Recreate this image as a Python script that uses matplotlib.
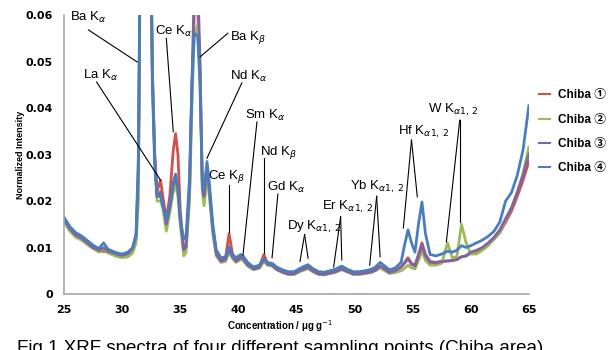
import matplotlib
matplotlib.use("Agg")
import matplotlib.pyplot as plt
from matplotlib import font_manager

# energy axis (labelled as in the source figure)
x = [25, 25.5, 26, 26.5, 27, 27.5, 28, 28.4, 28.8, 29.2, 29.6, 30, 30.5, 30.9, 31.2,
     31.4, 31.6, 32.4, 32.6, 32.8, 33.0, 33.3, 33.5, 33.8, 34.1, 34.4, 34.6, 34.8,
     35.0, 35.3, 35.5, 35.8, 36.0, 36.2, 36.5, 36.7, 36.9, 37.05, 37.3, 37.5, 37.8,
     38.1, 38.5, 38.9, 39.2, 39.5, 39.8, 40.2, 40.4, 40.8, 41.3, 41.8, 42.2, 42.5,
     42.9, 43.3, 43.8, 44.3, 44.8, 45.3, 45.7, 46.0, 46.4, 46.9, 47.4, 47.9, 48.3,
     48.9, 49.4, 49.9, 50.4, 50.9, 51.4, 51.8, 52.2, 52.6, 53.0, 53.5, 54.0, 54.3,
     54.6, 54.9, 55.2, 55.5, 55.8, 56.1, 56.5, 57.0, 57.5, 58.0, 58.4, 58.8, 59.2,
     59.6, 60.0, 60.5, 61.0, 61.5, 62.0, 62.5, 63.0, 63.5, 64.0, 64.5, 65.0]

chiba1 = [0.0158, 0.0138, 0.0125, 0.0118, 0.0108, 0.0098, 0.0092, 0.0092, 0.0090, 0.0088, 0.0084, 0.0082, 0.0086, 0.0096, 0.0120,
          0.0250, 0.0900, 0.0900, 0.0480, 0.0300, 0.0220, 0.0245, 0.0210, 0.0160, 0.0210, 0.0310, 0.0345, 0.0300,
          0.0180, 0.0093, 0.0100, 0.0220, 0.0430, 0.0600, 0.0620, 0.0480, 0.0240, 0.0215, 0.0270, 0.0225, 0.0140,
          0.0088, 0.0072, 0.0078, 0.0130, 0.0085, 0.0072, 0.0080, 0.0078, 0.0063, 0.0054, 0.0058, 0.0085, 0.0066,
          0.0062, 0.0054, 0.0048, 0.0044, 0.0044, 0.0050, 0.0055, 0.0058, 0.0050, 0.0044, 0.0043, 0.0046, 0.0048,
          0.0055, 0.0049, 0.0044, 0.0044, 0.0046, 0.0048, 0.0052, 0.0060, 0.0054, 0.0047, 0.0050, 0.0058, 0.0068,
          0.0078, 0.0066, 0.0062, 0.0085, 0.0110, 0.0085, 0.0070, 0.0068, 0.0070, 0.0071, 0.0072, 0.0074, 0.0080,
          0.0082, 0.0088, 0.0092, 0.0098, 0.0106, 0.0118, 0.0132, 0.0155, 0.0178, 0.0210, 0.0245, 0.0285]

chiba2 = [0.0155, 0.0135, 0.0122, 0.0116, 0.0106, 0.0098, 0.0090, 0.0098, 0.0088, 0.0084, 0.0080, 0.0078, 0.0080, 0.0088, 0.0110,
          0.0200, 0.0900, 0.0900, 0.0470, 0.0290, 0.0200, 0.0200, 0.0185, 0.0135, 0.0175, 0.0220, 0.0235, 0.0210,
          0.0150, 0.0082, 0.0090, 0.0200, 0.0400, 0.0550, 0.0580, 0.0460, 0.0220, 0.0190, 0.0250, 0.0210, 0.0130,
          0.0082, 0.0068, 0.0070, 0.0090, 0.0076, 0.0068, 0.0074, 0.0072, 0.0060, 0.0052, 0.0055, 0.0070, 0.0062,
          0.0060, 0.0052, 0.0046, 0.0042, 0.0042, 0.0048, 0.0052, 0.0055, 0.0048, 0.0042, 0.0041, 0.0044, 0.0046,
          0.0052, 0.0047, 0.0042, 0.0042, 0.0044, 0.0046, 0.0050, 0.0056, 0.0050, 0.0044, 0.0046, 0.0050, 0.0055,
          0.0062, 0.0056, 0.0054, 0.0072, 0.0092, 0.0072, 0.0062, 0.0062, 0.0066, 0.0110, 0.0078, 0.0080, 0.0150,
          0.0110, 0.0086, 0.0086, 0.0094, 0.0104, 0.0118, 0.0134, 0.0160, 0.0185, 0.0220, 0.0260, 0.0316]

chiba3 = [0.0160, 0.0140, 0.0127, 0.0120, 0.0110, 0.0100, 0.0094, 0.0100, 0.0092, 0.0089, 0.0085, 0.0083, 0.0087, 0.0098, 0.0125,
          0.0270, 0.0900, 0.0900, 0.0480, 0.0300, 0.0210, 0.0220, 0.0195, 0.0150, 0.0185, 0.0235, 0.0250, 0.0225,
          0.0160, 0.0095, 0.0102, 0.0230, 0.0450, 0.0650, 0.0680, 0.0500, 0.0230, 0.0210, 0.0270, 0.0225, 0.0140,
          0.0086, 0.0070, 0.0075, 0.0095, 0.0080, 0.0070, 0.0078, 0.0076, 0.0062, 0.0054, 0.0057, 0.0075, 0.0064,
          0.0062, 0.0053, 0.0047, 0.0043, 0.0043, 0.0050, 0.0054, 0.0057, 0.0049, 0.0043, 0.0042, 0.0045, 0.0047,
          0.0054, 0.0048, 0.0043, 0.0043, 0.0045, 0.0047, 0.0051, 0.0060, 0.0054, 0.0046, 0.0050, 0.0058, 0.0066,
          0.0075, 0.0064, 0.0060, 0.0082, 0.0105, 0.0082, 0.0068, 0.0067, 0.0070, 0.0071, 0.0072, 0.0074, 0.0080,
          0.0082, 0.0090, 0.0094, 0.0100, 0.0110, 0.0122, 0.0138, 0.0162, 0.0185, 0.0218, 0.0255, 0.0300]

chiba4 = [0.0165, 0.0145, 0.0132, 0.0125, 0.0115, 0.0105, 0.0098, 0.0110, 0.0096, 0.0092, 0.0088, 0.0086, 0.0090, 0.0100, 0.0130,
          0.0300, 0.0900, 0.0900, 0.0450, 0.0280, 0.0210, 0.0210, 0.0190, 0.0162, 0.0190, 0.0240, 0.0258, 0.0230,
          0.0160, 0.0118, 0.0125, 0.0250, 0.0450, 0.0560, 0.0555, 0.0450, 0.0240, 0.0225, 0.0285, 0.0240, 0.0150,
          0.0095, 0.0078, 0.0080, 0.0102, 0.0085, 0.0078, 0.0085, 0.0082, 0.0068, 0.0058, 0.0062, 0.0076, 0.0068,
          0.0066, 0.0058, 0.0052, 0.0048, 0.0048, 0.0055, 0.0060, 0.0063, 0.0055, 0.0048, 0.0047, 0.0050, 0.0053,
          0.0060, 0.0053, 0.0048, 0.0048, 0.0050, 0.0053, 0.0058, 0.0068, 0.0060, 0.0052, 0.0056, 0.0068, 0.0105,
          0.0138, 0.0110, 0.0090, 0.0150, 0.0198, 0.0130, 0.0085, 0.0082, 0.0086, 0.0092, 0.0090, 0.0094, 0.0104,
          0.0100, 0.0104, 0.0110, 0.0116, 0.0124, 0.0135, 0.0155, 0.0200, 0.0218, 0.0255, 0.0310, 0.0405]

series_names = ["Chiba \u2460", "Chiba \u2461", "Chiba \u2462", "Chiba \u2463"]
colors = ["#D0504D", "#9BBB59", "#8064A2", "#4A7EBB"]

# peak labels: text, text position, line start, line end points
labels = [
    (r"Ba K$_{\alpha}$", (25.5, 0.0594), (27.1, 0.0568), [(31.3, 0.0499)]),
    (r"La K$_{\alpha}$", (26.6, 0.0471), (27.8, 0.0456), [(33.3, 0.0245)]),
    (r"Ce K$_{\alpha}$", (32.85, 0.0564), (33.8, 0.0550), [(34.4, 0.0349)]),
    (r"Ba K$_{\beta}$", (39.3, 0.0551), (39.1, 0.0561), [(36.7, 0.0510)]),
    (r"Nd K$_{\alpha}$", (39.3, 0.0467), (40.3, 0.0454), [(37.3, 0.0292)]),
    (r"Sm K$_{\alpha}$", (40.6, 0.0385), (41.6, 0.0370), [(40.4, 0.0084)]),
    (r"Nd K$_{\beta}$", (41.9, 0.0305), (42.2, 0.0292), [(42.2, 0.0088)]),
    (r"Ce K$_{\beta}$", (37.4, 0.0252), (39.2, 0.0234), [(39.2, 0.0133)]),
    (r"Gd K$_{\alpha}$", (42.5, 0.0230), (43.4, 0.0215), [(42.9, 0.0078)]),
    (r"Dy K$_{\alpha 1,\,2}$", (44.2, 0.0144), (45.7, 0.0128), [(45.3, 0.0070), (46.0, 0.0077)]),
    (r"Er K$_{\alpha 1,\,2}$", (47.2, 0.0187), (48.8, 0.0166), [(48.2, 0.0058), (48.9, 0.0073)]),
    (r"Yb K$_{\alpha 1,\,2}$", (49.65, 0.0230), (51.9, 0.0210), [(51.3, 0.0062), (52.2, 0.0080)]),
    (r"Hf K$_{\alpha 1,\,2}$", (53.7, 0.0349), (54.9, 0.0331), [(54.2, 0.0142), (55.4, 0.0209)]),
    (r"W K$_{\alpha 1,\,2}$", (56.3, 0.0396), (59.05, 0.0374), [(57.9, 0.0112), (59.05, 0.0155)]),
]

names = {f.name for f in font_manager.fontManager.ttflist}
narrow = "Liberation Sans Narrow" if "Liberation Sans Narrow" in names else "Liberation Sans"

fig = plt.figure(figsize=(6.1, 3.5), dpi=100)
ax = fig.add_axes([0.105, 0.16, 0.762, 0.797])

for ys, c, n in zip([chiba1, chiba2, chiba3, chiba4], colors, series_names):
    ax.plot(x, ys, color=c, lw=2.0, label=n, solid_joinstyle="round")

for txt, tpos, start, ends in labels:
    for e in ends:
        ax.plot([start[0], e[0]], [start[1], e[1]], color="black", lw=0.8)
    ax.text(tpos[0], tpos[1], txt, fontsize=9.5, ha="left", va="center",
            family="Liberation Sans")

ax.set_xlim(25, 65)
ax.set_ylim(0, 0.06)
ax.set_xticks(range(25, 66, 5))
ax.set_yticks([0, 0.01, 0.02, 0.03, 0.04, 0.05, 0.06])
ax.set_yticklabels(["0", "0.01", "0.02", "0.03", "0.04", "0.05", "0.06"])
for lab in ax.get_xticklabels() + ax.get_yticklabels():
    lab.set_fontweight("bold")
    lab.set_fontsize(8)
ax.tick_params(length=0, pad=8)
for s in ["top", "right"]:
    ax.spines[s].set_visible(False)
for s in ["left", "bottom"]:
    ax.spines[s].set_color("#A6A6A6")
    ax.spines[s].set_linewidth(1.2)

ax.set_ylabel("Normalized Intensity", fontsize=6.5, fontweight="bold",
              family=[narrow, "DejaVu Sans"])
ax.yaxis.set_label_coords(-0.085, 0.5)
ax.set_xlabel("Concentration / \u03bcg g$^{-1}$", fontsize=7, fontweight="bold",
              family=[narrow, "DejaVu Sans"])
ax.xaxis.set_label_coords(0.465, -0.085)

leg = ax.legend(loc="upper left", bbox_to_anchor=(0.883, 0.745), bbox_transform=fig.transFigure,
                frameon=False, handlelength=1.0, labelspacing=1.05, handletextpad=0.6,
                borderaxespad=0, borderpad=0,
                prop={"family": [narrow, "Noto Sans CJK JP"], "weight": "bold", "size": 8.5})
for h in leg.legend_handles:
    h.set_linewidth(1.5)

fig.text(0.028, 0.028, "Fig.1 XRF spectra of four different sampling points (Chiba area)",
         fontsize=13.5, family="Liberation Sans", ha="left", va="top")

fig.savefig("out.png", dpi=100)
